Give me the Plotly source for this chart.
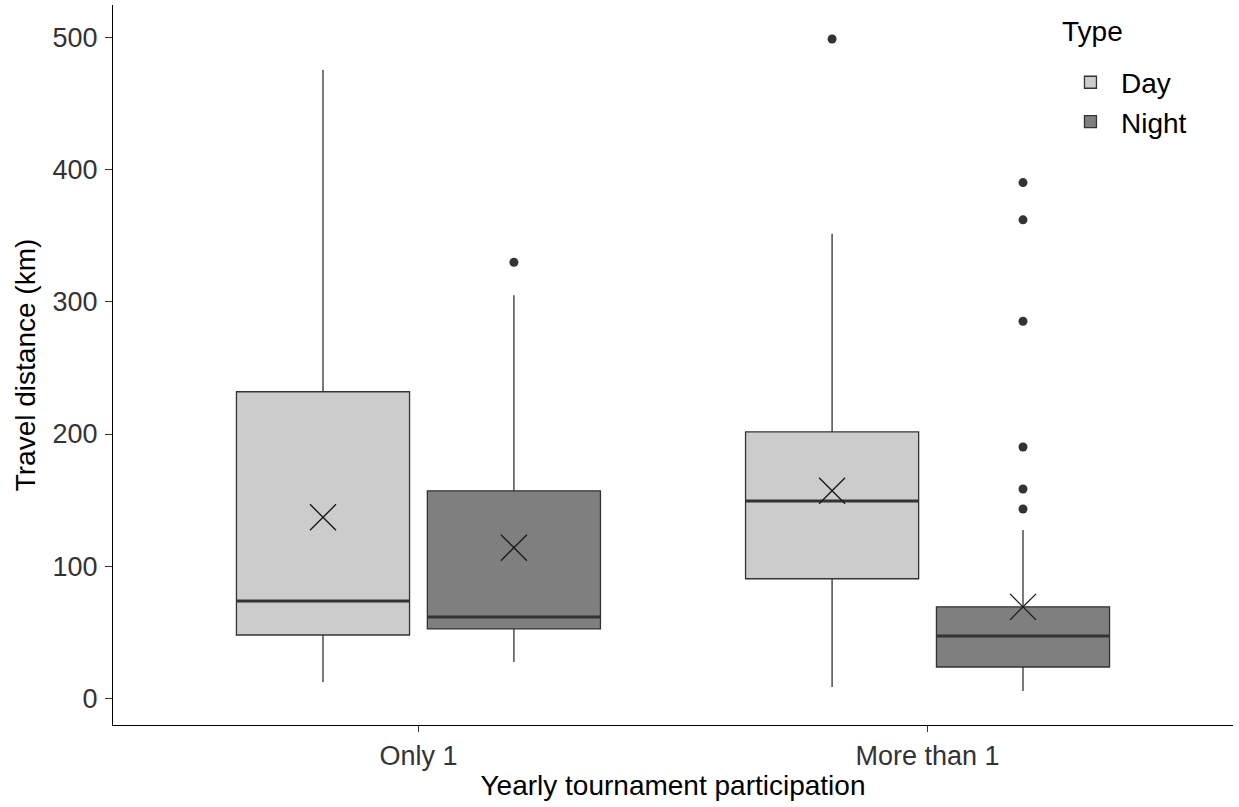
import plotly.graph_objects as go

# Summary statistics of travel distance (km) per participation group and type
categories = ["Only 1", "More than 1"]
types = ["Day", "Night"]

day_lower = [12.3, 8.6]
day_q1 = [47.9, 90.5]
day_median = [73.7, 149.4]
day_q3 = [232.0, 201.6]
day_upper = [475.6, 351.5]
day_mean = [137.0, 157.0]
day_outliers = [[], [499.0]]

night_lower = [27.5, 5.5]
night_q1 = [52.5, 23.7]
night_median = [61.5, 47.2]
night_q3 = [157.0, 69.2]
night_upper = [305.0, 127.4]
night_mean = [114.0, 69.2]
night_outliers = [[330.0], [143.3, 158.4, 190.2, 285.4, 362.1, 390.3]]

y_ticks = [0, 100, 200, 300, 400, 500]

# Dodged layout: two boxes per category
DODGE = 0.375          # slot width per type
BOX_W = 0.34           # box width in category units
FILLS = {"Day": "#CCCCCC", "Night": "#7F7F7F"}
EDGE = "#333333"
FONT = "Liberation Sans, Arial, sans-serif"
TXT = 28

series = {
    "Day": dict(lower=day_lower, q1=day_q1, median=day_median, q3=day_q3,
                upper=day_upper, mean=day_mean, outliers=day_outliers),
    "Night": dict(lower=night_lower, q1=night_q1, median=night_median, q3=night_q3,
                  upper=night_upper, mean=night_mean, outliers=night_outliers),
}

fig = go.Figure()

for k, t in enumerate(types):
    s = series[t]
    offset = (k - (len(types) - 1) / 2) * DODGE
    pos = [i + offset for i in range(len(categories))]

    fig.add_trace(go.Box(
        name=t, legendgroup=t, x=pos,
        q1=s["q1"], median=s["median"], q3=s["q3"],
        lowerfence=s["lower"], upperfence=s["upper"],
        width=BOX_W, boxpoints=False,
        fillcolor=FILLS[t], line=dict(color=EDGE, width=1.3),
        whiskerwidth=0, hoverinfo="skip",
    ))

for k, t in enumerate(types):
    s = series[t]
    offset = (k - (len(types) - 1) / 2) * DODGE
    pos = [i + offset for i in range(len(categories))]

    # thicker median bars
    for p, m in zip(pos, s["median"]):
        fig.add_trace(go.Scatter(
            x=[p - BOX_W / 2, p + BOX_W / 2], y=[m, m], mode="lines",
            line=dict(color=EDGE, width=3), showlegend=False, hoverinfo="skip",
        ))

    # outliers
    ox, oy = [], []
    for p, vals in zip(pos, s["outliers"]):
        ox += [p] * len(vals)
        oy += vals
    fig.add_trace(go.Scatter(
        x=ox, y=oy, mode="markers",
        marker=dict(symbol="circle", size=9, color=EDGE),
        showlegend=False, hoverinfo="skip",
    ))

    # means
    fig.add_trace(go.Scatter(
        x=pos, y=s["mean"], mode="markers",
        marker=dict(symbol="x-thin-open", size=26, color="#1a1a1a",
                    line=dict(color="#1a1a1a", width=1.4)),
        showlegend=False, hoverinfo="skip",
    ))

fig.update_layout(
    width=1239, height=807,
    margin=dict(l=113, r=6, t=5, b=82),
    paper_bgcolor="white", plot_bgcolor="white",
    font=dict(family=FONT, color="black", size=TXT),
    boxmode="overlay",
    legend=dict(
        x=0.8455, xanchor="left", y=0.927, yanchor="top",
        font=dict(size=TXT, color="black"),
        itemwidth=51, tracegroupgap=0,
        bgcolor="rgba(0,0,0,0)",
    ),
    showlegend=True,
    annotations=[dict(
        text="Type", xref="paper", yref="paper",
        x=0.8455, y=1.0, xanchor="left", yanchor="top",
        showarrow=False, font=dict(size=TXT, color="black"),
        xshift=0, yshift=-9,
    )],
)

fig.update_xaxes(
    range=[-0.6, 1.6],
    tickmode="array", tickvals=list(range(len(categories))), ticktext=categories,
    showline=True, linecolor="black", linewidth=1.2,
    ticks="outside", ticklen=6, tickcolor="#333333", tickwidth=1,
    tickfont=dict(size=TXT - 1, color="#333333"),
    showgrid=False, zeroline=False,
    title=dict(text="Yearly tournament participation",
               font=dict(size=TXT, color="black"), standoff=0),
)

fig.update_yaxes(
    range=[-20.2, 524.7],
    tickmode="array", tickvals=y_ticks,
    showline=True, linecolor="black", linewidth=1.2,
    ticks="outside", ticklen=7, tickcolor="#333333", tickwidth=1,
    ticklabelstandoff=2,
    tickfont=dict(size=TXT - 1, color="#333333"),
    showgrid=False, zeroline=False,
    title=dict(text="Travel distance (km)", font=dict(size=TXT, color="black"),
               standoff=8),
)

fig.write_html("out.html")
